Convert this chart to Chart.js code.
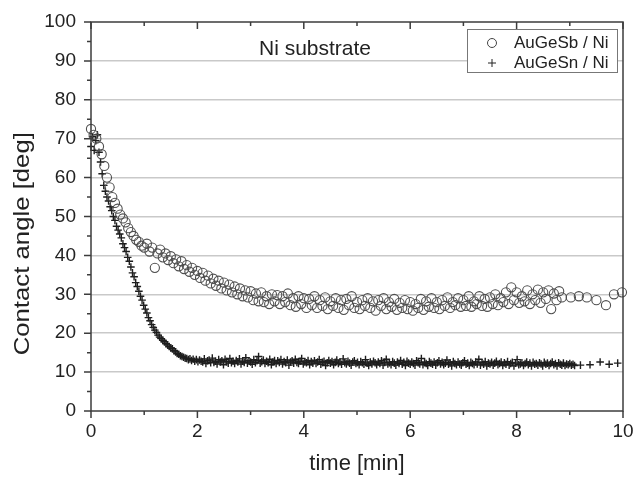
<!DOCTYPE html>
<html>
<head>
<meta charset="utf-8">
<script src="https://cdn.jsdelivr.net/npm/chart.js@4.4.1/dist/chart.umd.min.js"></script>
<style>
  html, body { margin: 0; padding: 0; background: #fff; }
</style>
</head>
<body>
<canvas id="angleChart" width="638" height="477"></canvas>
<script>
// AuGeSb / Ni - contact angle vs time (open circles)
const sbTime = [
  0.00, 0.05, 0.10, 0.15, 0.20, 0.25, 0.30, 0.35, 0.40, 0.45,
  0.50, 0.55, 0.60, 0.65, 0.70, 0.75, 0.80, 0.85, 0.90, 0.95,
  1.00, 1.05, 1.10, 1.15, 1.20, 1.25, 1.30, 1.35, 1.40, 1.45,
  1.50, 1.55, 1.60, 1.65, 1.70, 1.75, 1.80, 1.85, 1.90, 1.95,
  2.00, 2.05, 2.10, 2.15, 2.20, 2.25, 2.30, 2.35, 2.40, 2.45,
  2.50, 2.55, 2.60, 2.65, 2.70, 2.75, 2.80, 2.85, 2.90, 2.95,
  3.00, 3.05, 3.10, 3.15, 3.20, 3.25, 3.30, 3.35, 3.40, 3.45,
  3.50, 3.55, 3.60, 3.65, 3.70, 3.75, 3.80, 3.85, 3.90, 3.95,
  4.00, 4.05, 4.10, 4.15, 4.20, 4.25, 4.30, 4.35, 4.40, 4.45,
  4.50, 4.55, 4.60, 4.65, 4.70, 4.75, 4.80, 4.85, 4.90, 4.95,
  5.00, 5.05, 5.10, 5.15, 5.20, 5.25, 5.30, 5.35, 5.40, 5.45,
  5.50, 5.55, 5.60, 5.65, 5.70, 5.75, 5.80, 5.85, 5.90, 5.95,
  6.00, 6.05, 6.10, 6.15, 6.20, 6.25, 6.30, 6.35, 6.40, 6.45,
  6.50, 6.55, 6.60, 6.65, 6.70, 6.75, 6.80, 6.85, 6.90, 6.95,
  7.00, 7.05, 7.10, 7.15, 7.20, 7.25, 7.30, 7.35, 7.40, 7.45,
  7.50, 7.55, 7.60, 7.65, 7.70, 7.75, 7.80, 7.85, 7.90, 7.95,
  8.00, 8.05, 8.10, 8.15, 8.20, 8.25, 8.30, 8.35, 8.40, 8.45,
  8.50, 8.55, 8.60, 8.65, 8.70, 8.75, 8.80, 8.85,
  9.02, 9.17, 9.32, 9.50, 9.68, 9.83, 9.98
];
const sbAngle = [
  72.5, 71, 70, 68, 66, 63, 60, 57.5, 55, 53.5,
  52, 50.5, 49.5, 48.5, 47, 46, 45, 44, 43.5, 42.5,
  42, 43, 41, 42, 36.8, 40.5, 41.5, 39.5, 40.5, 38.8,
  39.8, 38, 39, 37.2, 38.5, 36.5, 37.5, 35.8, 36.8, 35,
  36, 34.2, 35.5, 33.5, 34.8, 32.8, 34, 32.2, 33.5, 31.5,
  33, 31, 32.5, 30.5, 32, 30, 31.5, 29.5, 31, 29.2,
  30.8, 28.5, 30.2, 28.2, 30.5, 28, 29.5, 27.5, 30, 28.2,
  29.8, 27.5, 29.5, 28, 30.2, 27.2, 29, 26.8, 29.5, 27.5,
  29, 26.5, 28.8, 27.2, 29.5, 26.5, 28.5, 27, 29.2, 26.2,
  28.2, 27, 29, 26.5, 28.5, 26, 28.8, 27.2, 29.5, 26.5,
  28, 26.2, 28.5, 27, 29, 26.5, 28.2, 25.8, 28.5, 27,
  29, 26.2, 28, 26.8, 28.8, 26, 27.8, 26.5, 28.5, 26.2,
  28, 25.8, 27.5, 26.5, 28.8, 26, 28.2, 26.8, 29, 26.5,
  28, 26.2, 28.5, 27, 29.2, 26.5, 28, 27.2, 29, 26.8,
  28.5, 27, 29.5, 26.8, 28.2, 27.5, 29.5, 27, 28.8, 26.8,
  29.2, 27.5, 30, 27.2, 29, 28, 30.5, 27.5, 31.8, 28.5,
  30.5, 27.8, 29.5, 28.2, 31, 27.5, 30, 28.5, 31.2, 27.8,
  30.5, 28.8, 31, 26.2, 30.2, 28.5, 30.8, 29.2,
  29.2, 29.5, 29.2, 28.5, 27.2, 30, 30.5
];

// AuGeSn / Ni - contact angle vs time (crosses)
const snTime = [
  0.00, 0.03, 0.06, 0.09, 0.12, 0.15, 0.18, 0.21, 0.24, 0.27,
  0.30, 0.33, 0.36, 0.39, 0.42, 0.45, 0.48, 0.51, 0.54, 0.57,
  0.60, 0.63, 0.66, 0.69, 0.72, 0.75, 0.78, 0.81, 0.84, 0.87,
  0.90, 0.93, 0.96, 0.99, 1.02, 1.05, 1.08, 1.11, 1.14, 1.17,
  1.20, 1.23, 1.26, 1.29, 1.32, 1.35, 1.38, 1.41, 1.44, 1.47,
  1.50, 1.53, 1.56, 1.59, 1.62, 1.65, 1.68, 1.71, 1.74, 1.77,
  1.80, 1.83, 1.86, 1.89, 1.92, 1.95, 1.98, 2.01, 2.04, 2.07,
  2.10, 2.13, 2.16, 2.19, 2.22, 2.25, 2.28, 2.31, 2.34, 2.37,
  2.40, 2.43, 2.46, 2.49, 2.52, 2.55, 2.58, 2.61, 2.64, 2.67,
  2.70, 2.73, 2.76, 2.79, 2.82, 2.85, 2.88, 2.91, 2.94, 2.97,
  3.00, 3.03, 3.06, 3.09, 3.12, 3.15, 3.18, 3.21, 3.24, 3.27,
  3.30, 3.33, 3.36, 3.39, 3.42, 3.45, 3.48, 3.51, 3.54, 3.57,
  3.60, 3.63, 3.66, 3.69, 3.72, 3.75, 3.78, 3.81, 3.84, 3.87,
  3.90, 3.93, 3.96, 3.99, 4.02, 4.05, 4.08, 4.11, 4.14, 4.17,
  4.20, 4.23, 4.26, 4.29, 4.32, 4.35, 4.38, 4.41, 4.44, 4.47,
  4.50, 4.53, 4.56, 4.59, 4.62, 4.65, 4.68, 4.71, 4.74, 4.77,
  4.80, 4.83, 4.86, 4.89, 4.92, 4.95, 4.98, 5.01, 5.04, 5.07,
  5.10, 5.13, 5.16, 5.19, 5.22, 5.25, 5.28, 5.31, 5.34, 5.37,
  5.40, 5.43, 5.46, 5.49, 5.52, 5.55, 5.58, 5.61, 5.64, 5.67,
  5.70, 5.73, 5.76, 5.79, 5.82, 5.85, 5.88, 5.91, 5.94, 5.97,
  6.00, 6.03, 6.06, 6.09, 6.12, 6.15, 6.18, 6.21, 6.24, 6.27,
  6.30, 6.33, 6.36, 6.39, 6.42, 6.45, 6.48, 6.51, 6.54, 6.57,
  6.60, 6.63, 6.66, 6.69, 6.72, 6.75, 6.78, 6.81, 6.84, 6.87,
  6.90, 6.93, 6.96, 6.99, 7.02, 7.05, 7.08, 7.11, 7.14, 7.17,
  7.20, 7.23, 7.26, 7.29, 7.32, 7.35, 7.38, 7.41, 7.44, 7.47,
  7.50, 7.53, 7.56, 7.59, 7.62, 7.65, 7.68, 7.71, 7.74, 7.77,
  7.80, 7.83, 7.86, 7.89, 7.92, 7.95, 7.98, 8.01, 8.04, 8.07,
  8.10, 8.13, 8.16, 8.19, 8.22, 8.25, 8.28, 8.31, 8.34, 8.37,
  8.40, 8.43, 8.46, 8.49, 8.52, 8.55, 8.58, 8.61, 8.64, 8.67,
  8.70, 8.73, 8.76, 8.79, 8.82, 8.85, 8.88, 8.91, 8.94, 8.97,
  9.00, 9.03, 9.06, 9.09,
  9.20, 9.38, 9.57, 9.74, 9.90
];
const snAngle = [
  68, 70.5, 67, 69.5, 71, 66.5, 64, 61, 58, 56.5,
  55, 54, 52.5, 51.5, 50, 49, 47.5, 46.5, 45.5, 44.5,
  43, 42, 41, 39.5, 38.5, 37, 35.5, 34.5, 33, 32,
  30.8, 29.5, 28.5, 27.2, 26.2, 25.2, 24, 23.2, 22.2, 21.5,
  20.8, 20.2, 19.5, 19, 18.6, 18.2, 17.8, 17.3, 17, 16.6,
  16.2, 16, 15.5, 15.2, 14.8, 14.6, 14.2, 14, 13.8, 13.6,
  13.5, 13.2, 13.4, 13, 13.3, 12.8, 13.2, 12.7, 13.1, 12.8,
  12.6, 13.4, 12.2, 12.9, 13.1, 12.4, 13.6, 12.5, 12.8, 12.1,
  13.2, 12.6, 12.9, 11.9, 13.3, 12.7, 12.3, 13.5, 12.4, 12.8,
  12.2, 13, 12.6, 13.4, 12.1, 12.8, 12.5, 13.7, 12.3, 12.9,
  12.6, 12, 13.2, 12.4, 12.9, 14, 12.3, 12.7, 13.1, 12.2,
  12.8, 12.4, 13.3, 11.9, 12.6, 13, 12.2, 12.9, 12.5, 13.2,
  12.1, 12.7, 12.4, 13.1, 11.8, 12.6, 12.9, 12.3, 13.3, 12.5,
  12.2, 12.8, 13.5, 12.1, 12.6, 12.4, 13, 11.9, 12.7, 12.3,
  12.9, 12.2, 12.6, 13.2, 12, 12.5, 12.8, 11.7, 12.4, 13,
  12.3, 12.7, 11.9, 12.5, 13.1, 12.2, 12.6, 12, 13.4, 12.4,
  12.1, 12.8, 12.3, 11.8, 12.6, 12.9, 12.2, 12.5, 11.9, 12.7,
  12.4, 12, 13.2, 12.3, 11.7, 12.6, 12.1, 12.8, 12.4, 11.9,
  12.6, 12.2, 12.9, 11.8, 12.5, 13.3, 12.1, 12.4, 11.9, 12.7,
  12.3, 11.8, 12.6, 12.2, 13, 12, 12.5, 11.7, 12.8, 12.3,
  12, 12.6, 12.2, 11.8, 12.9, 12.4, 12.1, 13.5, 11.9, 12.5,
  12.2, 11.7, 12.7, 12.3, 12, 12.6, 11.8, 12.4, 12.9, 12.1,
  12.5, 11.9, 12.3, 13.1, 12, 12.4, 11.6, 12.7, 12.2, 11.9,
  12.6, 12.1, 11.8, 12.4, 12.9, 12, 12.3, 11.7, 12.5, 12.2,
  11.9, 12.6, 12.1, 13.3, 11.8, 12.4, 12, 12.7, 11.6, 12.3,
  12.1, 12.5, 11.8, 12.3, 12.8, 11.9, 12.2, 12.6, 11.7, 12.4,
  12, 12.7, 11.8, 12.2, 12.5, 11.6, 12.3, 13.2, 11.9, 12.1,
  12.4, 11.7, 12.2, 12.6, 11.9, 12.3, 11.6, 12.5, 12, 12.2,
  11.8, 12.4, 12.1, 11.6, 12.5, 12, 12.3, 11.7, 12.2, 12.6,
  11.9, 12.2, 11.6, 12.4, 12, 11.8, 12.3, 11.7, 12.1, 11.9,
  12.2, 11.8, 12, 11.7,
  11.8, 11.9, 12.6, 12, 12.3
];

const seriesNames = ['AuGeSb / Ni', 'AuGeSn / Ni'];
const panelLabel = 'Ni substrate';
const yTitle = 'Contact angle [deg]';
const xTitle = 'time [min]';

const axisColor = '#3c3c3c';
const textColor = '#222';
const fontFamily = '"Liberation Sans", Arial, sans-serif';

function toPoints(xs, ys) {
  return xs.map((t, i) => ({ x: t, y: ys[i] }));
}

// frame, ticks (major + minor), legend box, y title and panel label
const decorations = {
  id: 'decorations',
  afterDraw(chart) {
    const { ctx, chartArea: a, scales: { x, y } } = chart;
    ctx.save();
    ctx.strokeStyle = axisColor;
    ctx.lineWidth = 1.5;
    ctx.strokeRect(a.left, a.top, a.right - a.left, a.bottom - a.top);

    ctx.beginPath();
    for (let v = 0; v <= 100; v += 5) {
      const py = y.getPixelForValue(v);
      const len = v % 10 === 0 ? 7 : 4;
      ctx.moveTo(a.left - len, py);
      ctx.lineTo(a.left, py);
    }
    for (let v = 0; v <= 10; v += 1) {
      const px = x.getPixelForValue(v);
      const len = v % 2 === 0 ? 7 : 4;
      ctx.moveTo(px, a.bottom);
      ctx.lineTo(px, a.bottom + len);
      ctx.moveTo(px, a.top);
      ctx.lineTo(px, a.top + len);
    }
    ctx.stroke();

    // y axis title (a bit stretched along its length, like the original)
    ctx.save();
    ctx.translate(23, a.top + (a.bottom - a.top) * 0.57);
    ctx.rotate(-Math.PI / 2);
    ctx.scale(1.17, 1);
    ctx.fillStyle = textColor;
    ctx.font = '22px ' + fontFamily;
    ctx.textAlign = 'center';
    ctx.textBaseline = 'middle';
    ctx.fillText(yTitle, 0, 0);
    ctx.restore();

    // panel label
    ctx.fillStyle = textColor;
    ctx.font = '21px ' + fontFamily;
    ctx.textBaseline = 'alphabetic';
    ctx.textAlign = 'left';
    ctx.fillText(panelLabel, a.left + 168, a.top + 33);

    // legend box
    const bx = a.right - 156, by = a.top + 7, bw = 150, bh = 43;
    ctx.fillStyle = '#fff';
    ctx.fillRect(bx, by, bw, bh);
    ctx.strokeStyle = '#777';
    ctx.lineWidth = 1;
    ctx.strokeRect(bx + 0.5, by + 0.5, bw, bh);

    ctx.font = '17px ' + fontFamily;
    ctx.textBaseline = 'middle';
    ctx.fillStyle = textColor;
    const rows = [by + 14, by + 34];
    ctx.strokeStyle = '#444';
    ctx.beginPath();
    ctx.arc(bx + 25, rows[0], 4.5, 0, Math.PI * 2);
    ctx.stroke();
    ctx.strokeStyle = '#222';
    ctx.beginPath();
    ctx.moveTo(bx + 21, rows[1]); ctx.lineTo(bx + 29, rows[1]);
    ctx.moveTo(bx + 25, rows[1] - 4); ctx.lineTo(bx + 25, rows[1] + 4);
    ctx.stroke();
    ctx.fillText(seriesNames[0], bx + 47, rows[0]);
    ctx.fillText(seriesNames[1], bx + 47, rows[1]);
    ctx.restore();
  }
};

new Chart(document.getElementById('angleChart'), {
  type: 'scatter',
  data: {
    datasets: [
      {
        label: seriesNames[0],
        data: toPoints(sbTime, sbAngle),
        pointStyle: 'circle',
        pointRadius: 4.6,
        borderColor: '#4e4e4e',
        backgroundColor: 'rgba(255,255,255,0)',
        borderWidth: 1.1,
        clip: false,
      },
      {
        label: seriesNames[1],
        data: toPoints(snTime, snAngle),
        pointStyle: 'cross',
        pointRadius: 3.8,
        borderColor: '#1e1e1e',
        backgroundColor: '#1e1e1e',
        borderWidth: 1.4,
        clip: false,
      },
    ],
  },
  options: {
    responsive: false,
    animation: false,
    events: [],
    layout: { padding: { top: 22, right: 15, left: 0, bottom: 0 } },
    plugins: {
      legend: { display: false },
      tooltip: { enabled: false },
    },
    scales: {
      x: {
        type: 'linear',
        min: 0,
        max: 10,
        afterFit(scale) {
          scale.height = 66;
          scale.paddingLeft = 0;
          scale.paddingRight = 0;
        },
        ticks: {
          stepSize: 2,
          padding: 9,
          color: textColor,
          font: { family: fontFamily, size: 19 },
          maxRotation: 0,
        },
        grid: { display: false, drawTicks: false },
        border: { display: false },
        title: {
          display: true,
          text: xTitle,
          color: textColor,
          font: { family: fontFamily, size: 22 },
          padding: { top: 0, bottom: 0 },
        },
      },
      y: {
        min: 0,
        max: 100,
        afterFit(scale) {
          scale.width = 91;
          scale.paddingTop = 0;
          scale.paddingBottom = 0;
        },
        ticks: {
          stepSize: 10,
          padding: 15,
          color: textColor,
          font: { family: fontFamily, size: 19 },
        },
        grid: {
          drawTicks: false,
          lineWidth: 1.5,
          color: (c) => (c.tick && c.tick.value > 0 && c.tick.value < 100) ? '#c9c9c9' : 'rgba(0,0,0,0)',
        },
        border: { display: false },
        title: { display: false },
      },
    },
  },
  plugins: [decorations],
});
</script>
</body>
</html>
